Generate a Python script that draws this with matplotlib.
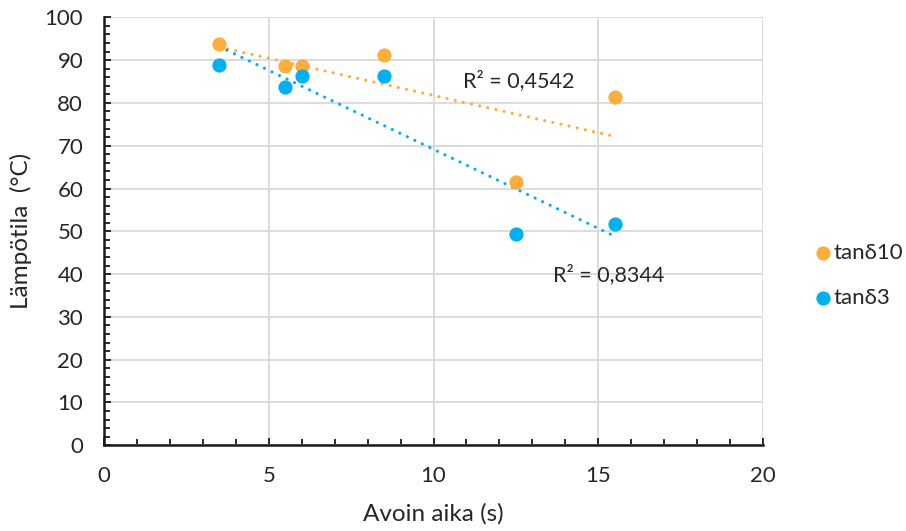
import numpy as np
import matplotlib
matplotlib.use('Agg')
import matplotlib.pyplot as plt
from matplotlib.ticker import MultipleLocator

plt.rcParams['font.family'] = ['Lato', 'DejaVu Sans']

# avoin aika (s) vs lämpötila (°C)
x_vals = [3.5, 5.5, 6.0, 8.5, 12.5, 15.5]
tan10 = [93.7, 88.7, 88.7, 91.2, 61.6, 81.3]
tan3 = [88.8, 83.8, 86.3, 86.3, 49.3, 51.8]
r2_labels = ['R² = 0,4542', 'R² = 0,8344']

ORANGE = '#FBAE3C'
BLUE = '#00B0F0'
TXT = '#262626'

fig = plt.figure(figsize=(9.06, 5.31), dpi=100)
ax = fig.add_axes([0.1148, 0.1614, 0.7274, 0.806])

x = np.array(x_vals)
xs = np.array([x.min(), x.max()])
for ys, col in [(tan10, ORANGE), (tan3, BLUE)]:
    k, b = np.polyfit(x, ys, 1)
    ax.plot(xs, k * xs + b, color=col, lw=2.3, linestyle=(0, (0.01, 2.6)),
            dash_capstyle='round', zorder=3)

ax.scatter(x_vals, tan10, s=105, color=ORANGE, label='tanδ10', zorder=4, linewidths=0)
ax.scatter(x_vals, tan3, s=105, color=BLUE, label='tanδ3', zorder=4, linewidths=0)

ax.text(12.57, 85.3, r2_labels[0], fontsize=15.5, ha='center', va='center', color=TXT)
ax.text(15.33, 39.8, r2_labels[1], fontsize=15.5, ha='center', va='center', color=TXT)

ax.set_xlim(0, 20)
ax.set_ylim(0, 100)
ax.xaxis.set_major_locator(MultipleLocator(5))
ax.xaxis.set_minor_locator(MultipleLocator(1))
ax.yaxis.set_major_locator(MultipleLocator(10))
ax.yaxis.set_minor_locator(MultipleLocator(2))
ax.grid(True, which='major', color='#d9d9d9', lw=1.3)
ax.set_axisbelow(True)

for s in ['top', 'right']:
    ax.spines[s].set_visible(False)
for s in ['left', 'bottom']:
    ax.spines[s].set_linewidth(1.8)
    ax.spines[s].set_color('#1a1a1a')

ax.tick_params(which='both', direction='in', color='#1a1a1a', width=1.3)
ax.tick_params(which='major', length=5, labelsize=16, labelcolor=TXT)
ax.tick_params(which='minor', length=4)
ax.tick_params(axis='x', which='major', pad=15)
ax.tick_params(axis='y', which='major', pad=15)

ax.set_xlabel('Avoin aika (s)', fontsize=17.5, color=TXT, labelpad=12)
ax.set_ylabel('Lämpötila  (°C)', fontsize=17.5, color=TXT, labelpad=9)

ax.legend(loc='center left', bbox_to_anchor=(1.06, 0.397), frameon=False,
          fontsize=16, handletextpad=0.0, labelspacing=1.1, markerscale=1.0,
          labelcolor=TXT, borderaxespad=0, handlelength=1.0)

fig.savefig('out.png', dpi=100)
